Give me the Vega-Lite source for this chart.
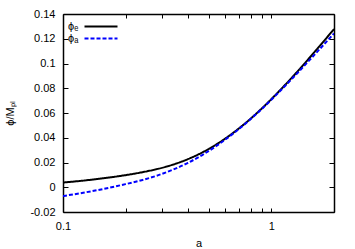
{
  "$schema": "https://vega.github.io/schema/vega-lite/v6.json",
  "width": 271,
  "height": 198,
  "autosize": "none",
  "padding": {"left": 63, "top": 14, "right": 21, "bottom": 37},
  "background": "white",
  "config": {
    "view": {"stroke": null},
    "font": "Liberation Sans",
    "axis": {
      "labelFont": "Liberation Sans",
      "labelFontSize": 11,
      "labelColor": "black",
      "titleFont": "Liberation Sans",
      "titleFontSize": 11,
      "titleFontWeight": "normal",
      "titleColor": "black",
      "domainColor": "black",
      "domainWidth": 1.5,
      "tickColor": "black",
      "tickWidth": 1,
      "grid": false
    },
    "legend": {
      "orient": "none",
      "legendX": 3,
      "legendY": 6,
      "title": null,
      "symbolType": "M-3,0H3",
      "symbolSize": 121,
      "symbolStrokeWidth": 2,
      "symbolOffset": 28.5,
      "labelOffset": -39.5,
      "labelFont": "Liberation Sans",
      "labelFontSize": 11,
      "labelColor": "black",
      "rowPadding": -2,
      "padding": 0
    }
  },
  "data": {
    "values": [
      {"a": 0.1, "phi": 0.0038, "s": "ϕₑ"},
      {"a": 0.125, "phi": 0.00535, "s": "ϕₑ"},
      {"a": 0.155, "phi": 0.0072, "s": "ϕₑ"},
      {"a": 0.194, "phi": 0.00945, "s": "ϕₑ"},
      {"a": 0.241, "phi": 0.0122, "s": "ϕₑ"},
      {"a": 0.285, "phi": 0.01483, "s": "ϕₑ"},
      {"a": 0.336, "phi": 0.0182, "s": "ϕₑ"},
      {"a": 0.396, "phi": 0.02259, "s": "ϕₑ"},
      {"a": 0.468, "phi": 0.02825, "s": "ϕₑ"},
      {"a": 0.552, "phi": 0.03523, "s": "ϕₑ"},
      {"a": 0.651, "phi": 0.04355, "s": "ϕₑ"},
      {"a": 0.768, "phi": 0.05319, "s": "ϕₑ"},
      {"a": 0.906, "phi": 0.0641, "s": "ϕₑ"},
      {"a": 1.068, "phi": 0.07606, "s": "ϕₑ"},
      {"a": 1.26, "phi": 0.08885, "s": "ϕₑ"},
      {"a": 1.571, "phi": 0.10705, "s": "ϕₑ"},
      {"a": 2.0, "phi": 0.1278, "s": "ϕₑ"},
      {"a": 0.1, "phi": -0.0071, "s": "ϕₐ"},
      {"a": 0.125, "phi": -0.00445, "s": "ϕₐ"},
      {"a": 0.155, "phi": -0.0015, "s": "ϕₐ"},
      {"a": 0.194, "phi": 0.00205, "s": "ϕₐ"},
      {"a": 0.241, "phi": 0.0059, "s": "ϕₐ"},
      {"a": 0.285, "phi": 0.0096, "s": "ϕₐ"},
      {"a": 0.336, "phi": 0.0141, "s": "ϕₐ"},
      {"a": 0.396, "phi": 0.01955, "s": "ϕₐ"},
      {"a": 0.468, "phi": 0.02625, "s": "ϕₐ"},
      {"a": 0.552, "phi": 0.03405, "s": "ϕₐ"},
      {"a": 0.651, "phi": 0.04295, "s": "ϕₐ"},
      {"a": 0.768, "phi": 0.05279, "s": "ϕₐ"},
      {"a": 0.906, "phi": 0.0637, "s": "ϕₐ"},
      {"a": 1.068, "phi": 0.07546, "s": "ϕₐ"},
      {"a": 1.26, "phi": 0.08785, "s": "ϕₐ"},
      {"a": 1.571, "phi": 0.10505, "s": "ϕₐ"},
      {"a": 2.0, "phi": 0.1243, "s": "ϕₐ"}
    ]
  },
  "layer": [
    {
      "mark": {"type": "line", "strokeWidth": 2, "interpolate": "monotone", "clip": true},
      "encoding": {
        "x": {
          "field": "a", "type": "quantitative",
          "scale": {"type": "log", "domain": [0.1, 2]},
          "axis": {
            "orient": "bottom",
            "title": "a",
            "values": [0.1, 0.2, 0.3, 0.4, 0.5, 0.6, 0.7, 0.8, 0.9, 1, 2],
            "labelExpr": "datum.value == 0.1 || datum.value == 1 ? '' + datum.value : ''",
            "tickSize": -4,
            "labelPadding": 12,
            "titlePadding": 6,
            "labelFlush": false
          }
        },
        "y": {
          "field": "phi", "type": "quantitative",
          "scale": {"domain": [-0.02, 0.14], "nice": false, "zero": false},
          "axis": {
            "orient": "left",
            "title": "ϕ/Mₚₗ",
            "values": [-0.02, 0, 0.02, 0.04, 0.06, 0.08, 0.1, 0.12, 0.14],
            "labelExpr": "'' + round(datum.value * 100) / 100",
            "tickSize": -5,
            "labelPadding": 13,
            "titlePadding": 14
          }
        },
        "color": {
          "field": "s", "type": "nominal",
          "scale": {"domain": ["ϕₑ", "ϕₐ"], "range": ["#000000", "#0000ff"]},
          "legend": {}
        },
        "strokeDash": {
          "field": "s", "type": "nominal",
          "scale": {"domain": ["ϕₑ", "ϕₐ"], "range": [[1, 0], [4, 2]]},
          "legend": {}
        }
      }
    },
    {
      "mark": {"type": "line", "opacity": 0},
      "encoding": {
        "x": {
          "field": "a", "type": "quantitative",
          "scale": {"type": "log", "domain": [0.1, 2]},
          "axis": {
            "orient": "top",
            "title": null,
            "values": [0.1, 0.2, 0.3, 0.4, 0.5, 0.6, 0.7, 0.8, 0.9, 1, 2],
            "labels": false,
            "tickSize": -4
          }
        },
        "y": {
          "field": "phi", "type": "quantitative",
          "scale": {"domain": [-0.02, 0.14], "nice": false, "zero": false},
          "axis": {
            "orient": "right",
            "title": null,
            "values": [-0.02, 0, 0.02, 0.04, 0.06, 0.08, 0.1, 0.12, 0.14],
            "labels": false,
            "tickSize": -5
          }
        },
        "detail": {"field": "s", "type": "nominal"}
      }
    }
  ],
  "resolve": {"scale": {"x": "independent", "y": "independent"}}
}
